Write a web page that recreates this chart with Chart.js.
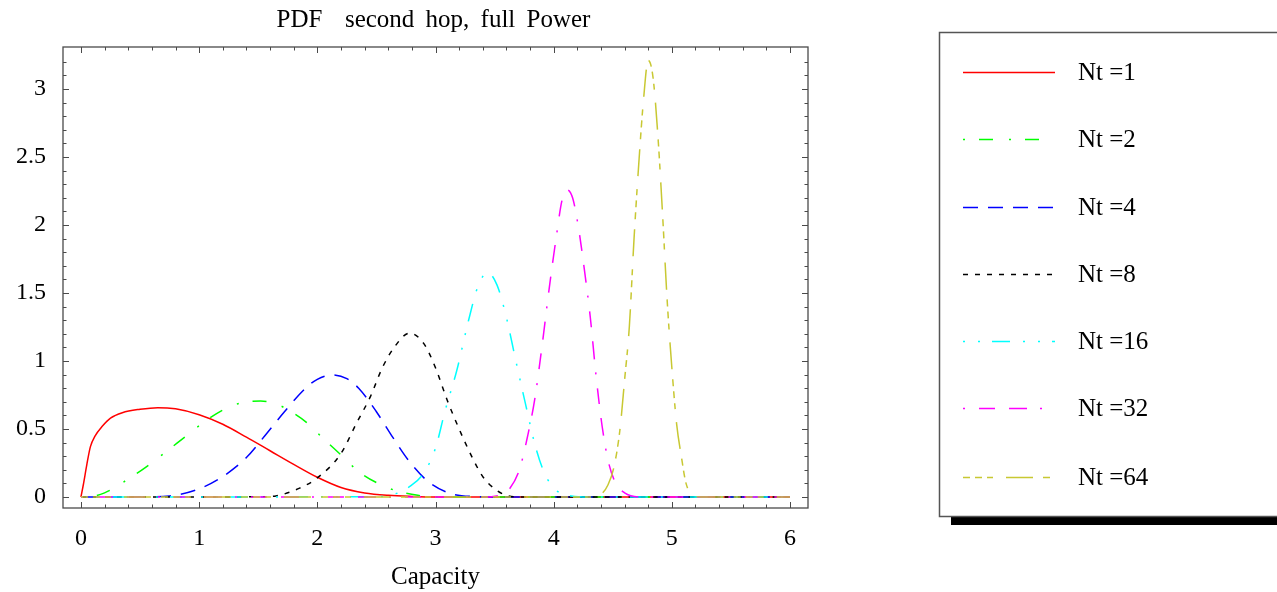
<!DOCTYPE html>
<html><head><meta charset="utf-8">
<script src="https://cdn.jsdelivr.net/npm/chart.js@4/dist/chart.umd.min.js"></script>
<style>html,body{margin:0;padding:0;background:#fff;} canvas{display:block;}</style>
</head><body>
<canvas id="c" width="1277" height="592"></canvas>
<script>
const chartTitle = "PDF  second hop, full Power";
const xAxisTitle = "Capacity";
const seriesLabels = ["Nt =1", "Nt =2", "Nt =4", "Nt =8", "Nt =16", "Nt =32", "Nt =64"];
const xTicks = [0, 1, 2, 3, 4, 5, 6];
const yTicks = [0, 0.5, 1, 1.5, 2, 2.5, 3];
const yTickLabels = ["0", "0.5", "1", "1.5", "2", "2.5", "3"];

const nt1X = [0, 0.02, 0.05, 0.08, 0.12, 0.18, 0.25, 0.35, 0.5, 0.65, 0.8, 1.0, 1.2, 1.4, 1.6, 1.8, 2.0, 2.2, 2.4, 2.6, 2.8, 3.0, 6.0];
const nt1Y = [0, 0.09, 0.24, 0.37, 0.45, 0.52, 0.58, 0.62, 0.645, 0.657, 0.648, 0.605, 0.535, 0.44, 0.34, 0.24, 0.145, 0.07, 0.03, 0.012, 0.004, 0, 0];

const nt2X = [0, 0.05, 0.2, 0.36, 0.55, 0.72, 0.9, 1.08, 1.25, 1.4, 1.52, 1.65, 1.8, 1.92, 2.05, 2.2, 2.36, 2.55, 2.7, 2.85, 3.0, 6.0];
const nt2Y = [0, 0, 0.03, 0.11, 0.22, 0.333, 0.455, 0.575, 0.66, 0.70, 0.706, 0.685, 0.615, 0.54, 0.43, 0.31, 0.18, 0.085, 0.038, 0.012, 0, 0];

const nt4X = [0, 0.5, 0.75, 1.0, 1.2, 1.4, 1.57, 1.72, 1.9, 2.0, 2.12, 2.25, 2.35, 2.5, 2.63, 2.78, 2.95, 3.15, 3.35, 3.6, 6.0];
const nt4Y = [0, 0.001, 0.008, 0.06, 0.15, 0.29, 0.465, 0.625, 0.80, 0.865, 0.897, 0.87, 0.80, 0.627, 0.45, 0.26, 0.105, 0.02, 0.003, 0, 0];

const nt8X = [0, 1.5, 1.65, 1.85, 2.0, 2.2, 2.33, 2.45, 2.55, 2.65, 2.78, 2.9, 3.0, 3.1, 3.2, 3.3, 3.4, 3.5, 3.6, 3.75, 6.0];
const nt8Y = [0, 0.001, 0.008, 0.065, 0.14, 0.32, 0.54, 0.74, 0.95, 1.10, 1.205, 1.13, 0.95, 0.71, 0.50, 0.31, 0.15, 0.06, 0.012, 0, 0];

const nt16X = [0, 2.5, 2.65, 2.78, 2.9, 3.0, 3.08, 3.18, 3.28, 3.36, 3.44, 3.52, 3.6, 3.68, 3.76, 3.84, 3.92, 4.02, 4.15, 4.3, 6.0];
const nt16Y = [0, 0.002, 0.02, 0.076, 0.175, 0.36, 0.63, 0.93, 1.30, 1.55, 1.65, 1.56, 1.32, 1.0, 0.69, 0.39, 0.18, 0.05, 0.008, 0, 0];

const nt32X = [0, 3.4, 3.55, 3.63, 3.71, 3.78, 3.84, 3.9, 3.96, 4.02, 4.07, 4.11, 4.16, 4.21, 4.26, 4.31, 4.36, 4.41, 4.46, 4.52, 4.6, 4.75, 6.0];
const nt32Y = [0, 0, 0.015, 0.064, 0.20, 0.45, 0.72, 1.1, 1.52, 1.9, 2.18, 2.26, 2.2, 1.98, 1.67, 1.32, 0.88, 0.52, 0.27, 0.11, 0.03, 0, 0];

const nt64X = [0, 4.3, 4.4, 4.46, 4.51, 4.56, 4.6, 4.64, 4.68, 4.72, 4.76, 4.8, 4.84, 4.88, 4.92, 4.96, 5.0, 5.04, 5.08, 5.12, 5.18, 5.25, 6.0];
const nt64Y = [0, 0, 0.02, 0.09, 0.22, 0.49, 0.86, 1.25, 1.9, 2.45, 2.92, 3.21, 3.09, 2.68, 2.1, 1.45, 0.95, 0.54, 0.30, 0.10, 0.015, 0, 0];

const seriesX = [nt1X, nt2X, nt4X, nt8X, nt16X, nt32X, nt64X];
const seriesY = [nt1Y, nt2Y, nt4Y, nt8Y, nt16Y, nt32Y, nt64Y];
const colors = ['#ff0000', '#00ff00', '#0000ff', '#000000', '#00ffff', '#ff00ff', '#c8c832'];
const dashes = [[], [2, 14, 14, 16], [15, 10], [5, 7], [2, 13, 2, 12, 18, 13], [2, 14, 16, 14, 18, 13], [7, 5, 7, 5, 6, 13, 27, 10]];

const FONT = "'Liberation Serif', 'Times New Roman', serif";

const datasets = seriesLabels.map((lab, i) => ({
  label: lab,
  data: seriesX[i].map((x, j) => ({x: x, y: seriesY[i][j]})),
  borderColor: colors[i],
  backgroundColor: colors[i],
  borderDash: dashes[i],
  borderWidth: 1.5,
  pointRadius: 0,
  showLine: true,
  fill: false,
  cubicInterpolationMode: 'monotone',
  order: seriesLabels.length - i
}));

const frameTicks = {
  id: 'frameTicks',
  afterDatasetsDraw(chart) {
    const ctx = chart.ctx, a = chart.chartArea;
    const xs = chart.scales.x, ys = chart.scales.y;
    ctx.save();
    ctx.strokeStyle = '#4a4a4a';
    ctx.lineWidth = 1.3;
    ctx.strokeRect(a.left, a.top, a.right - a.left, a.bottom - a.top);
    ctx.lineWidth = 1;
    ctx.beginPath();
    for (let k = 0; k <= 30; k++) {
      const v = k * 0.2;
      const L = (k % 5 === 0) ? 6 : 3.5;
      const px = Math.round(xs.getPixelForValue(v)) + 0.5;
      ctx.moveTo(px, a.bottom); ctx.lineTo(px, a.bottom - L);
      ctx.moveTo(px, a.top); ctx.lineTo(px, a.top + L);
    }
    for (let k = 0; k <= 32; k++) {
      const v = k * 0.1;
      const L = (k % 5 === 0) ? 6 : 3.5;
      const py = Math.round(ys.getPixelForValue(v)) + 0.5;
      ctx.moveTo(a.left, py); ctx.lineTo(a.left + L, py);
      ctx.moveTo(a.right, py); ctx.lineTo(a.right - L, py);
    }
    ctx.stroke();

    // title, centred over the plot frame
    ctx.fillStyle = '#000';
    ctx.font = "25px " + FONT;
    ctx.textAlign = 'center';
    ctx.textBaseline = 'middle';
    try { ctx.wordSpacing = '5px'; } catch (e) {}
    ctx.fillText(chartTitle, (a.left + a.right) / 2 - 2, 20);
    try { ctx.wordSpacing = '0px'; } catch (e) {}
    ctx.restore();
  }
};

const boxLegend = {
  id: 'boxLegend',
  afterDraw(chart) {
    const ctx = chart.ctx;
    const L = 939, T = 32, R = 1300, B = 516;
    ctx.save();
    ctx.fillStyle = '#000';
    ctx.fillRect(L + 12, T + 9, R - L, B - T);
    ctx.fillStyle = '#fff';
    ctx.fillRect(L, T, R - L, B - T);
    ctx.strokeStyle = '#555';
    ctx.lineWidth = 1.5;
    ctx.strokeRect(L + 0.5, T + 0.5, R - L, B - T);
    const rows = [72, 139, 207, 274, 341, 408, 477];
    chart.data.datasets.forEach((ds, i) => {
      const y = rows[i] + 0.5;
      ctx.strokeStyle = ds.borderColor;
      ctx.lineWidth = 1.5;
      ctx.setLineDash(ds.borderDash || []);
      ctx.beginPath();
      ctx.moveTo(963, y); ctx.lineTo(1055, y);
      ctx.stroke();
      ctx.setLineDash([]);
      ctx.fillStyle = '#000';
      ctx.font = "25px " + FONT;
      ctx.textBaseline = 'middle';
      ctx.textAlign = 'left';
      ctx.fillText(ds.label, 1078, rows[i] + 1);
    });
    ctx.restore();
  }
};

new Chart(document.getElementById('c'), {
  type: 'scatter',
  data: { datasets: datasets },
  options: {
    responsive: false,
    animation: false,
    layout: { padding: { left: 0, right: 469, top: 47, bottom: 0 } },
    plugins: {
      legend: { display: false },
      tooltip: { enabled: false },
      title: { display: false }
    },
    scales: {
      x: {
        type: 'linear', min: -0.152, max: 6.152,
        grid: { display: false, drawTicks: false },
        border: { display: false },
        afterBuildTicks: s => { s.ticks = xTicks.map(v => ({ value: v })); },
        afterFit: s => { s.height = 84; },
        ticks: { color: '#000', padding: 16, maxRotation: 0, autoSkip: false,
          font: { family: FONT, size: 24 }, callback: v => String(v) },
        title: { display: true, text: xAxisTitle, color: '#000',
          font: { family: FONT, size: 25 }, padding: { top: 10, bottom: 0 } }
      },
      y: {
        type: 'linear', min: -0.081, max: 3.309,
        grid: { display: false, drawTicks: false },
        border: { display: false },
        afterBuildTicks: s => { s.ticks = yTicks.map(v => ({ value: v })); },
        afterFit: s => { s.width = 63; },
        ticks: { color: '#000', padding: 17, autoSkip: false,
          font: { family: FONT, size: 24 },
          callback: v => { const i = yTicks.indexOf(v); return i >= 0 ? yTickLabels[i] : ''; } }
      }
    }
  },
  plugins: [frameTicks, boxLegend]
});
</script>
</body></html>
